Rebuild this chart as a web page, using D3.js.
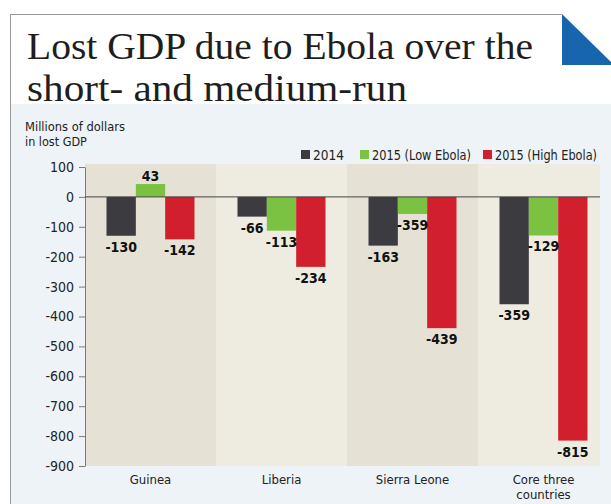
<!DOCTYPE html>
<html><head><meta charset="utf-8">
<script src="https://cdn.jsdelivr.net/npm/d3@7"></script>
<style>body{margin:0;background:#fff}</style>
</head><body><svg id="c" width="611" height="504"></svg>
<script>
const categories = ["Guinea", "Liberia", "Sierra Leone", "Core three countries"];
const categoryLines = [["Guinea"], ["Liberia"], ["Sierra Leone"], ["Core three", "countries"]];
const titleLines = ["Lost GDP due to Ebola over the", "short- and medium-run"];
const seriesNames = ["2014", "2015 (Low Ebola)", "2015 (High Ebola)"];
const values2014 = [-130, -66, -163, -359];
const valuesLow = [43, -113, -57, -129];
const valuesHigh = [-142, -234, -439, -815];
const labels2014 = ["-130", "-66", "-163", "-359"];
const labelsLow = ["43", "-113", "-359", "-129"];
const labelsHigh = ["-142", "-234", "-439", "-815"];
const yTicks = [100, 0, -100, -200, -300, -400, -500, -600, -700, -800, -900];
const seriesColors = ["#3c3b40", "#7cc242", "#d11f2d"];

const svg = d3.select("#c");
const sans = "'DejaVu Sans Condensed','Liberation Sans Narrow',Roboto,sans-serif";

// outer frame and backgrounds
svg.append("rect").attr("x", 10).attr("y", 104).attr("width", 601).attr("height", 400).attr("fill", "#eef3f7");
svg.append("line").attr("x1", 10).attr("x2", 562).attr("y1", 14.5).attr("y2", 14.5).attr("stroke", "#9a9a9a").attr("stroke-width", 1);
svg.append("line").attr("x1", 10.5).attr("x2", 10.5).attr("y1", 14).attr("y2", 504).attr("stroke", "#9a9a9a").attr("stroke-width", 1);
svg.append("path").attr("d", "M562,14 L562,65 L611,65 L611,62 Z").attr("fill", "#1766ad");

// title (two lines)
const titleLens = [506, 380];
const titleY = [59, 101];
const title = svg.append("g").attr("font-family", "'Liberation Serif','DejaVu Serif',serif")
  .attr("fill", "#1e1e1e").attr("font-size", 37.5);
titleLines.forEach((ln, k) => {
  title.append("text").attr("x", 27).attr("y", titleY[k])
    .attr("textLength", titleLens[k]).attr("lengthAdjust", "spacingAndGlyphs").text(ln);
});

// scales
const y = d3.scaleLinear().domain([-900, 100]).range([466, 167]);
const x0 = d3.scaleBand().domain(categories).range([85, 609]);
const groupW = 88;
const x1 = d3.scaleBand().domain(seriesNames).range([0, groupW]);
const plotRight = 600;

// plot background bands
const bandFills = ["#e6e1d5", "#eeebe1", "#e6e1d5", "#eeebe1"];
svg.append("g").selectAll("rect").data(categories).join("rect")
  .attr("x", d => x0(d))
  .attr("y", 164)
  .attr("width", d => Math.min(x0(d) + x0.step(), plotRight) - x0(d))
  .attr("height", y(-900) - 164)
  .attr("fill", (d, i) => bandFills[i]);

// y axis
const yAxis = d3.axisLeft(y).tickValues(yTicks).tickSize(6).tickSizeOuter(0).tickPadding(5).tickFormat(d => String(d));
const ag = svg.append("g").attr("transform", "translate(85,0)").call(yAxis);
ag.select(".domain").attr("stroke", "#7a7a7a");
ag.selectAll(".tick line").attr("stroke", "#7a7a7a");
ag.selectAll(".tick text").attr("font-family", sans).attr("font-size", 14).attr("fill", "#222");

// axis title
const at = svg.append("g").attr("font-family", sans).attr("font-size", 12.5).attr("fill", "#222");
at.append("text").attr("x", 25).attr("y", 131).attr("textLength", 100).attr("lengthAdjust", "spacingAndGlyphs").text("Millions of dollars");
at.append("text").attr("x", 25).attr("y", 146).text("in lost GDP");

// bars
const seriesVals = [values2014, valuesLow, valuesHigh];
const seriesLabels = [labels2014, labelsLow, labelsHigh];
const groupOffset = c => x0(c) + (x0.bandwidth() - groupW) / 2;
const barData = [];
categories.forEach((c, i) => {
  seriesNames.forEach((s, j) => {
    barData.push({c, s, j, v: seriesVals[j][i], label: seriesLabels[j][i]});
  });
});
svg.append("g").selectAll("rect").data(barData).join("rect")
  .attr("x", d => groupOffset(d.c) + x1(d.s))
  .attr("width", x1.bandwidth())
  .attr("y", d => y(Math.max(0, d.v)))
  .attr("height", d => Math.abs(y(d.v) - y(0)))
  .attr("fill", d => seriesColors[d.j]);

// zero line
svg.append("line").attr("x1", 85).attr("x2", plotRight).attr("y1", y(0)).attr("y2", y(0)).attr("stroke", "#444").attr("stroke-width", 1);

// bar labels
svg.append("g").attr("font-family", sans).attr("font-weight", "bold").attr("font-size", 14).attr("fill", "#111")
  .attr("text-anchor", "middle")
  .selectAll("text").data(barData).join("text")
  .attr("x", d => groupOffset(d.c) + x1(d.s) + x1.bandwidth() / 2)
  .attr("y", d => d.v >= 0 ? y(d.v) - 3 : y(d.v) + 16)
  .text(d => d.label);

// x labels
const xl = svg.append("g").attr("font-family", sans).attr("font-size", 13).attr("fill", "#222").attr("text-anchor", "middle");
categories.forEach((c, i) => {
  const cx = x0(c) + x0.bandwidth() / 2;
  const t = xl.append("text").attr("x", cx).attr("y", 484);
  categoryLines[i].forEach((ln, k) => {
    t.append("tspan").attr("x", cx).attr("dy", k === 0 ? 0 : 15).text(ln);
  });
});

// legend
const legX = [301, 360, 483];
const legW = [31, 99, 102];
const lg = svg.append("g").attr("font-family", sans).attr("font-size", 13.5).attr("fill", "#222");
seriesNames.forEach((s, j) => {
  lg.append("rect").attr("x", legX[j]).attr("y", 150).attr("width", 9).attr("height", 9).attr("fill", seriesColors[j]);
  lg.append("text").attr("x", legX[j] + 12).attr("y", 160).attr("textLength", legW[j]).attr("lengthAdjust", "spacingAndGlyphs").text(s);
});
</script></body></html>
